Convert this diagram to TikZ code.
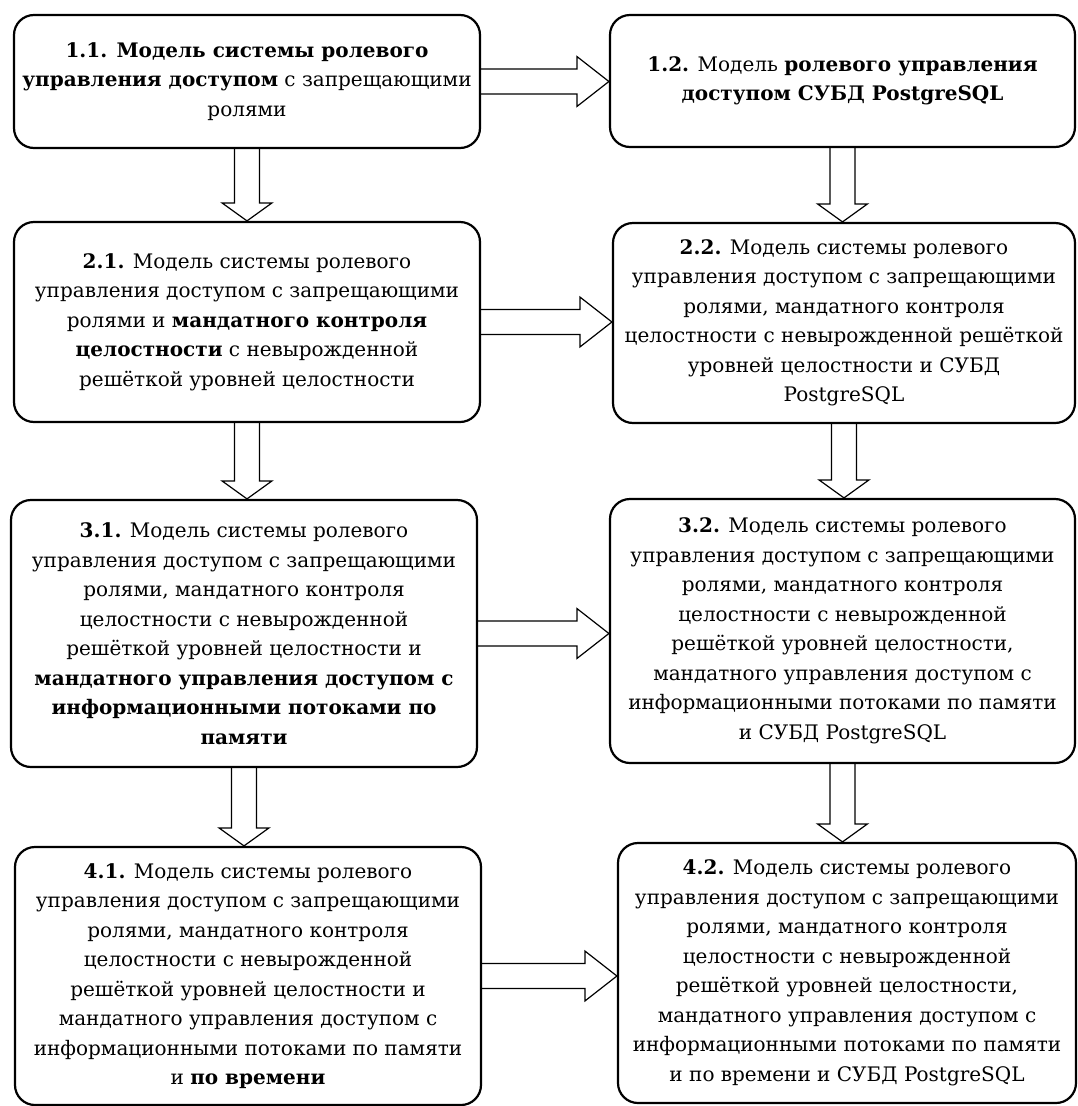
\documentclass[tikz,border=0pt]{standalone}
\usepackage{fontspec}
\setmainfont{DejaVu Serif}
\usepackage{tikz}
\usetikzlibrary{calc}

\tikzset{
	stage/.style={draw=black, line width=2.2pt, rounded corners=20pt, align=center,
		inner sep=0pt, font=\fontsize{20}{29.5}\selectfont},
	harr/.style={draw=black, line width=1.2pt, to path={
		let \p1=(\tikztostart.east), \p2=(\tikztotarget.west) in
		(\x1,\y1+12.5pt) -- (\x2-32pt,\y1+12.5pt) -- (\x2-32pt,\y1+25pt) -- (\x2,\y1)
		-- (\x2-32pt,\y1-25pt) -- (\x2-32pt,\y1-12.5pt) -- (\x1,\y1-12.5pt)}},
	varr/.style={draw=black, line width=1.2pt, to path={
		let \p1=(\tikztostart.south), \p2=(\tikztotarget.north) in
		(\x1-12.5pt,\y1) -- (\x1-12.5pt,\y2+18pt) -- (\x1-25pt,\y2+18pt) -- (\x1,\y2)
		-- (\x1+25pt,\y2+18pt) -- (\x1+12.5pt,\y2+18pt) -- (\x1+12.5pt,\y1)}},
}

\begin{document}
\begin{tikzpicture}[x=1pt,y=-1pt]
	\useasboundingbox (0,0) rectangle (1077,1106);

\begin{scope}
	\node[stage, minimum width=466, minimum height=133] (m11) at (247,81.5)
		{\textbf{1.1. Модель системы ролевого}\\
		 \textbf{управления доступом} с запрещающими\\
		 ролями};
	\node[stage, minimum width=465, minimum height=132] (m12) at (842.5,81)
		{\textbf{1.2.} Модель \textbf{ролевого управления}\\
		 \textbf{доступом СУБД PostgreSQL}};

	\node[stage, minimum width=466, minimum height=200] (m21) at (247,322)
		{\textbf{2.1.} Модель системы ролевого\\
		 управления доступом с запрещающими\\
		 ролями и \textbf{мандатного контроля}\\
		 \textbf{целостности} с невырожденной\\
		 решёткой уровней целостности};
	\node[stage, minimum width=462, minimum height=200] (m22) at (844,323)
		{\textbf{2.2.} Модель системы ролевого\\
		 управления доступом с запрещающими\\
		 ролями, мандатного контроля\\
		 целостности с невырожденной решёткой\\
		 уровней целостности и СУБД\\
		 PostgreSQL};

	\node[stage, minimum width=466, minimum height=267] (m31) at (244,633.5)
		{\textbf{3.1.} Модель системы ролевого\\
		 управления доступом с запрещающими\\
		 ролями, мандатного контроля\\
		 целостности с невырожденной\\
		 решёткой уровней целостности и\\
		 \textbf{мандатного управления доступом с}\\
		 \textbf{информационными потоками по}\\
		 \textbf{памяти}};
	\node[stage, minimum width=465, minimum height=264] (m32) at (842.5,631)
		{\textbf{3.2.} Модель системы ролевого\\
		 управления доступом с запрещающими\\
		 ролями, мандатного контроля\\
		 целостности с невырожденной\\
		 решёткой уровней целостности,\\
		 мандатного управления доступом с\\
		 информационными потоками по памяти\\
		 и СУБД PostgreSQL};

	\node[stage, minimum width=466, minimum height=258] (m41) at (248,976)
		{\textbf{4.1.} Модель системы ролевого\\
		 управления доступом с запрещающими\\
		 ролями, мандатного контроля\\
		 целостности с невырожденной\\
		 решёткой уровней целостности и\\
		 мандатного управления доступом с\\
		 информационными потоками по памяти\\
		 и \textbf{по времени}};
	\node[stage, minimum width=458, minimum height=260] (m42) at (847,973)
		{\textbf{4.2.} Модель системы ролевого\\
		 управления доступом с запрещающими\\
		 ролями, мандатного контроля\\
		 целостности с невырожденной\\
		 решёткой уровней целостности,\\
		 мандатного управления доступом с\\
		 информационными потоками по памяти\\
		 и по времени и СУБД PostgreSQL};
\end{scope}

\begin{scope}
	\path (m11) edge[harr] (m12);
	\path (m21) edge[harr] (m22);
	\path (m31) edge[harr] (m32);
	\path (m41) edge[harr] (m42);

	\path (m11) edge[varr] (m21);
	\path (m21) edge[varr] (m31);
	\path (m31) edge[varr] (m41);

	\path (m12) edge[varr] (m22);
	\path (m22) edge[varr] (m32);
	\path (m32) edge[varr] (m42);
\end{scope}

\end{tikzpicture}
\end{document}
